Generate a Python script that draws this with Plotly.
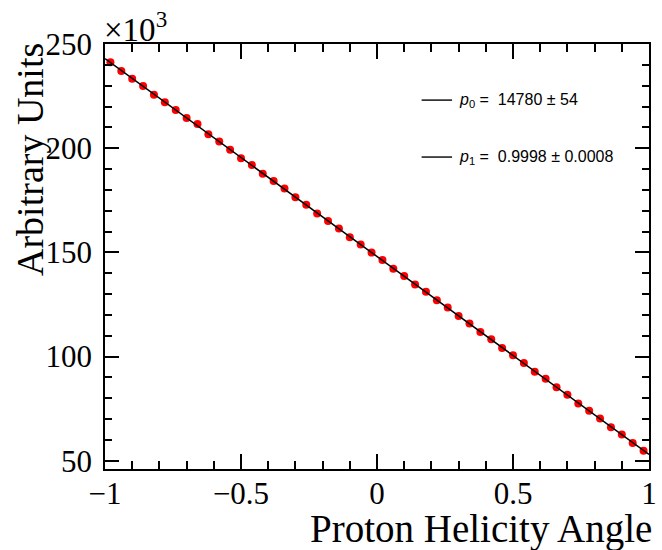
import numpy as np
import plotly.graph_objects as go

# Bin centres of the proton helicity angle histogram (50 bins over [-1, 1])
angle = [-0.98, -0.94, -0.90, -0.86, -0.82, -0.78, -0.74, -0.70, -0.66, -0.62,
         -0.58, -0.54, -0.50, -0.46, -0.42, -0.38, -0.34, -0.30, -0.26, -0.22,
         -0.18, -0.14, -0.10, -0.06, -0.02, 0.02, 0.06, 0.10, 0.14, 0.18,
         0.22, 0.26, 0.30, 0.34, 0.38, 0.42, 0.46, 0.50, 0.54, 0.58,
         0.62, 0.66, 0.70, 0.74, 0.78, 0.82, 0.86, 0.90, 0.94, 0.98]
# Counts in units of 10^3
counts = [241.3, 237.0, 233.3, 229.9, 225.6, 222.0, 218.3, 214.5, 211.6, 206.7,
          203.2, 199.2, 195.2, 191.9, 187.7, 184.3, 180.6, 176.4, 172.9, 168.7,
          165.1, 161.5, 157.2, 153.8, 149.9, 146.3, 142.1, 138.7, 134.6, 131.1,
          127.0, 123.5, 119.4, 115.9, 111.8, 108.3, 104.1, 100.6, 96.9, 92.7,
          89.3, 85.2, 81.6, 77.5, 74.0, 70.2, 66.1, 62.6, 58.5, 54.8]
fit_labels = ["<i>p</i><sub>0</sub> = &nbsp;14780 ± 54",
              "<i>p</i><sub>1</sub> = &nbsp;0.9998 ± 0.0008"]
x_title = "Proton Helicity Angle"
y_title = "Arbitrary Units"

# straight-line fit drawn over the full axis range
coef = np.polyfit(angle, counts, 1)
fit_x = np.array([-1.0, 1.0])
fit_y = np.polyval(coef, fit_x)

serif = "Liberation Serif, Times New Roman, serif"
sans = "Liberation Sans, Arial, sans-serif"

fig = go.Figure()
fig.add_trace(go.Scatter(x=angle, y=counts, mode="markers",
                         marker=dict(color="#ff0000", size=8, line=dict(width=0)),
                         showlegend=False))
fig.add_trace(go.Scatter(x=fit_x, y=fit_y, mode="lines",
                         line=dict(color="black", width=1.5), showlegend=False))

axis_common = dict(showline=True, linecolor="black", linewidth=1.5, mirror="ticks",
                   ticks="inside", tickcolor="black", showgrid=False, zeroline=False,
                   tickfont=dict(family=serif, size=31, color="black"))
fig.update_xaxes(range=[-1, 1], dtick=0.5, tick0=-1, ticklen=15, tickwidth=1.5,
                 minor=dict(dtick=0.1, ticklen=8, ticks="inside", tickcolor="black", tickwidth=1.5),
                 ticklabelstandoff=-4, ticklabeloverflow="allow", **axis_common)
fig.update_yaxes(range=[46, 250], dtick=50, tick0=50, ticklen=14, tickwidth=1.5,
                 minor=dict(dtick=10, ticklen=7, ticks="inside", tickcolor="black", tickwidth=1.5),
                 ticklabelstandoff=5, **axis_common)

# fit-parameter legend
rows_y = [0.868, 0.734]
for lab, yy in zip(fit_labels, rows_y):
    fig.add_shape(type="line", xref="paper", yref="paper", x0=0.582, x1=0.638, y0=yy, y1=yy,
                  line=dict(color="black", width=1.4))
    fig.add_annotation(xref="paper", yref="paper", x=0.644, y=yy, text=lab, showarrow=False,
                       xanchor="left", yanchor="middle", xshift=2,
                       font=dict(family=sans, size=16, color="black"))

# axis titles (ROOT style: aligned to the axis end)
fig.add_annotation(xref="paper", yref="paper", x=1.0, y=-0.136, text=x_title, showarrow=False,
                   xanchor="right", yanchor="middle", xshift=5, yshift=-2,
                   font=dict(family=serif, size=39, color="black"))
fig.add_annotation(xref="paper", yref="paper", x=-0.139, y=0.728, text=y_title, showarrow=False,
                   textangle=-90, xanchor="center", yanchor="middle",
                   font=dict(family=serif, size=38, color="black"))
fig.add_annotation(xref="paper", yref="paper", x=0.0, y=1.0, text="×10<sup>3</sup>", showarrow=False,
                   xanchor="left", yanchor="bottom", yshift=-6, xshift=-3,
                   font=dict(family=serif, size=33, color="black"))

fig.update_layout(width=662, height=550, margin=dict(l=105, r=5, t=44, b=81),
                  paper_bgcolor="white", plot_bgcolor="white")
fig.write_html("out.html")
